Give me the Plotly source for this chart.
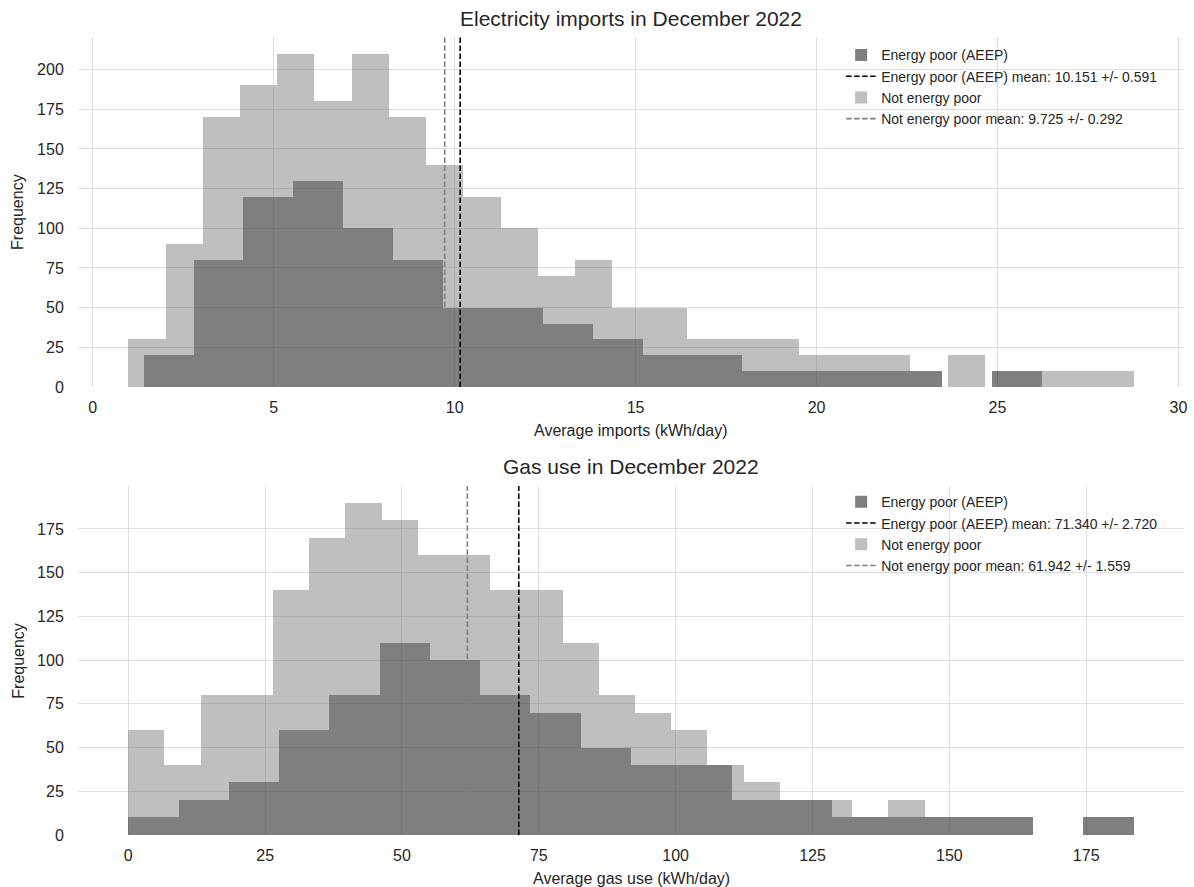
import plotly.graph_objects as go
from plotly.subplots import make_subplots

# ---------------- data ----------------
# Electricity imports (kWh/day), December 2022
elec_poor_start = 1.405
elec_poor_width = 1.379
elec_poor_counts = [20, 80, 120, 130, 100, 80, 50, 50, 40, 30, 20, 20, 10, 10, 10, 10, 0, 10]
elec_poor_mean = 10.151
elec_poor_err = 0.591

elec_not_start = 0.981
elec_not_width = 1.029
elec_not_counts = [30, 90, 170, 190, 210, 180, 210, 170, 140, 120, 100, 70, 80, 50, 50,
                   30, 30, 30, 20, 20, 20, 0, 20, 0, 10, 10, 10]
elec_not_mean = 9.725
elec_not_err = 0.292

# Gas use (kWh/day), December 2022
gas_poor_start = 0.0
gas_poor_width = 9.184
gas_poor_counts = [10, 20, 30, 60, 80, 110, 100, 80, 70, 50, 40, 40, 20, 20, 10, 10, 10, 10, 0, 10]
gas_poor_mean = 71.340
gas_poor_err = 2.720

gas_not_start = 0.0
gas_not_width = 6.613
gas_not_counts = [60, 40, 80, 80, 140, 170, 190, 180, 160, 160, 140, 140, 110, 80, 70, 60,
                  40, 30, 20, 20, 10, 20, 10]
gas_not_mean = 61.942
gas_not_err = 1.559

titles = ["Electricity imports in December 2022", "Gas use in December 2022"]
xlabels = ["Average imports (kWh/day)", "Average gas use (kWh/day)"]
ylabel = "Frequency"
label_poor = "Energy poor (AEEP)"
label_not = "Not energy poor"

DARK = "rgba(0,0,0,0.5)"
LIGHT = "rgba(128,128,128,0.5)"
TXT = "#262626"
FONT = "Liberation Sans, Arial, sans-serif"

fig = make_subplots(rows=2, cols=1, vertical_spacing=0.124)


def edges(start, width, n):
    return [start + i * width for i in range(n)]


def add_panel(row, legend_name, p_start, p_width, p_counts, p_mean, p_err,
              n_start, n_width, n_counts, n_mean, n_err):
    ymax = 1.05 * max(max(p_counts), max(n_counts))
    lo = min(p_start, n_start)
    hi = max(p_start + p_width * len(p_counts), n_start + n_width * len(n_counts))
    pad = 0.05 * (hi - lo)

    fig.add_trace(go.Bar(x=edges(p_start, p_width, len(p_counts)), y=p_counts,
                         width=p_width, offset=0, marker=dict(color=DARK, line=dict(width=0)),
                         name=label_poor, legend=legend_name), row=row, col=1)
    fig.add_trace(go.Scatter(x=[p_mean, p_mean], y=[0, ymax], mode="lines",
                             line=dict(color="black", width=1.6, dash="5.5px,2.5px"),
                             name=f"{label_poor} mean: {p_mean:.3f} +/- {p_err:.3f}",
                             legend=legend_name), row=row, col=1)
    fig.add_trace(go.Bar(x=edges(n_start, n_width, len(n_counts)), y=n_counts,
                         width=n_width, offset=0, marker=dict(color=LIGHT, line=dict(width=0)),
                         name=label_not, legend=legend_name), row=row, col=1)
    fig.add_trace(go.Scatter(x=[n_mean, n_mean], y=[0, ymax], mode="lines",
                             line=dict(color="#808080", width=1.6, dash="5.5px,2.5px"),
                             name=f"{label_not} mean: {n_mean:.3f} +/- {n_err:.3f}",
                             legend=legend_name), row=row, col=1)
    return [lo - pad, hi + pad], [0, ymax]


xr1, yr1 = add_panel(1, "legend", elec_poor_start, elec_poor_width, elec_poor_counts,
                     elec_poor_mean, elec_poor_err, elec_not_start, elec_not_width,
                     elec_not_counts, elec_not_mean, elec_not_err)
xr2, yr2 = add_panel(2, "legend2", gas_poor_start, gas_poor_width, gas_poor_counts,
                     gas_poor_mean, gas_poor_err, gas_not_start, gas_not_width,
                     gas_not_counts, gas_not_mean, gas_not_err)

axis_common = dict(showgrid=True, gridcolor="#dedede", gridwidth=1, zeroline=False,
                   showline=False, ticks="outside", tickcolor="rgba(0,0,0,0)",
                   tickfont=dict(size=16, color=TXT, family=FONT))

fig.update_xaxes(ticklen=6, **axis_common)
fig.update_yaxes(ticklen=10, **axis_common)
fig.update_xaxes(range=xr1, dtick=5, tick0=0, row=1, col=1)
fig.update_yaxes(range=yr1, dtick=25, tick0=0, row=1, col=1)
fig.update_xaxes(range=xr2, dtick=25, tick0=0, row=2, col=1)
fig.update_yaxes(range=yr2, dtick=25, tick0=0, row=2, col=1)

fig.update_layout(yaxis=dict(domain=[0.5614, 1.0]), yaxis2=dict(domain=[0.0, 0.4373]))

legend_common = dict(xanchor="left", yanchor="top", bgcolor="rgba(0,0,0,0)",
                     borderwidth=0, font=dict(size=14, color=TXT, family=FONT),
                     tracegroupgap=0, itemwidth=30)
fig.update_layout(
    width=1194, height=887,
    margin=dict(l=78, r=7, t=37, b=52),
    paper_bgcolor="white", plot_bgcolor="white",
    barmode="overlay", bargap=0,
    font=dict(family=FONT, color=TXT),
    legend=dict(x=0.69, y=0.997, **legend_common),
    legend2=dict(x=0.69, y=0.437, **legend_common),
)

# titles and axis labels
ann = []
ann.append(dict(text=titles[0], x=0.5, y=1.0226, xref="paper", yref="paper",
                showarrow=False, font=dict(size=21, color=TXT), xanchor="center", yanchor="middle"))
ann.append(dict(text=titles[1], x=0.5, y=0.4612, xref="paper", yref="paper",
                showarrow=False, font=dict(size=21, color=TXT), xanchor="center", yanchor="middle"))
ann.append(dict(text=xlabels[0], x=0.5, y=0.5075, xref="paper", yref="paper",
                showarrow=False, font=dict(size=16, color=TXT), xanchor="center", yanchor="middle"))
ann.append(dict(text=xlabels[1], x=0.5, y=-0.0539, xref="paper", yref="paper",
                showarrow=False, font=dict(size=16, color=TXT), xanchor="center", yanchor="middle"))
ann.append(dict(text=ylabel, x=-0.0541, y=0.781, xref="paper", yref="paper", textangle=-90,
                showarrow=False, font=dict(size=16, color=TXT), xanchor="center", yanchor="middle"))
ann.append(dict(text=ylabel, x=-0.0541, y=0.2186, xref="paper", yref="paper", textangle=-90,
                showarrow=False, font=dict(size=16, color=TXT), xanchor="center", yanchor="middle"))
fig.update_layout(annotations=ann)

fig.write_html("out.html")
